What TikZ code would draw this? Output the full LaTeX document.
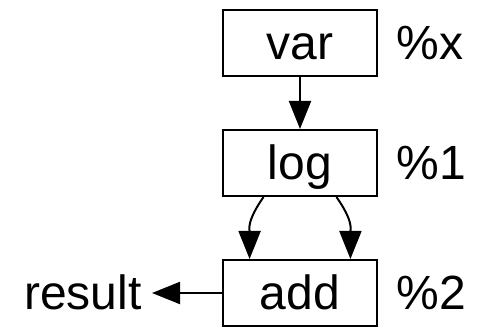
\documentclass[tikz,border=0pt]{standalone}
\usepackage{fontspec}
\setmainfont{Liberation Sans}
\usetikzlibrary{arrows.meta,positioning}

\tikzset{
  op/.style={draw, line width=1pt, minimum width=77pt, minimum height=33pt,
    inner sep=0pt, text height=17pt, text depth=0pt},
  tag/.style={inner sep=0pt, text height=17pt, text depth=0pt},
  flow/.style={-{Triangle[length=14pt,width=11pt]}, line width=1pt}
}

\begin{document}
\begin{tikzpicture}[x=0.5pt, y=-0.5pt, font=\fontsize{24pt}{28pt}\selectfont]
        \useasboundingbox (0, 0) rectangle (492, 330);

        % the three ops, top to bottom
        \node[op] (var) at (300, 43) {var};
        \node[op] (log) at (300, 163) {log};
        \node[op] (add) at (300, 293) {add};

        % value names on the right
        \node[tag, right=9pt of var] (x) {\%x};
        \node[tag, right=9pt of log] (v1) {\%1};
        \node[tag, right=9pt of add] (v2) {\%2};

        \node[tag, left=40pt of add] (result) {result};

        \draw[flow] (var) -- (log);
        \draw[flow] (log.223) to[out=235, in=90, looseness=1.2] (add.146);
        \draw[flow] (log.317) to[out=305, in=90, looseness=1.2] (add.34);
        \draw[flow, shorten >=5pt] (add) -- (result);
\end{tikzpicture}
\end{document}
